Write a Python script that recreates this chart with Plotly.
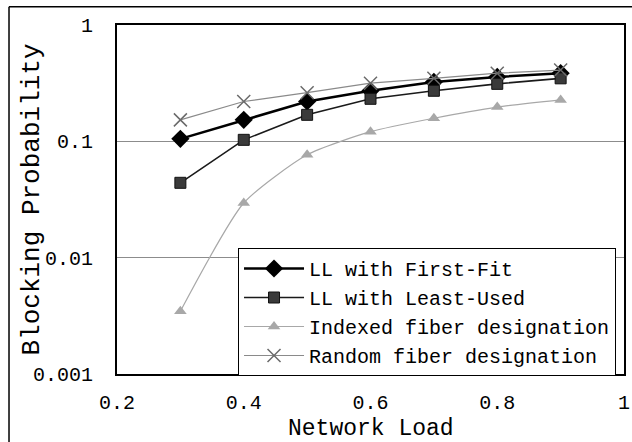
import plotly.graph_objects as go

# Network load values (x axis)
load = [0.3, 0.4, 0.5, 0.6, 0.7, 0.8, 0.9]

# Blocking probability per scheme
first_fit = [0.105, 0.153, 0.22, 0.272, 0.324, 0.358, 0.385]
least_used = [0.044, 0.103, 0.169, 0.232, 0.272, 0.312, 0.348]
indexed_fiber = [0.00346, 0.0295, 0.0766, 0.121, 0.158, 0.197, 0.227]
random_fiber = [0.153, 0.22, 0.262, 0.316, 0.348, 0.385, 0.41]

y_ticks = [0.001, 0.01, 0.1, 1]
y_tick_text = ["0.001", "0.01", "0.1", "1"]
x_ticks = [0.2, 0.4, 0.6, 0.8, 1]
x_tick_text = ["0.2", "0.4", "0.6", "0.8", "1"]

FONT = "Liberation Mono, DejaVu Sans Mono, monospace"

fig = go.Figure()

fig.add_trace(go.Scatter(
    x=load, y=first_fit, name="LL with First-Fit", mode="lines+markers",
    line=dict(color="#000000", width=2.5),
    marker=dict(symbol="diamond", size=14, color="#000000"),
))
fig.add_trace(go.Scatter(
    x=load, y=least_used, name="LL with Least-Used", mode="lines+markers",
    line=dict(color="#1a1a1a", width=1.6),
    marker=dict(symbol="square", size=11, color="#3a3a3a",
                line=dict(color="#111111", width=1)),
))
fig.add_trace(go.Scatter(
    x=load, y=indexed_fiber, name="Indexed fiber designation", mode="lines+markers",
    line=dict(color="#a8a8a8", width=1.2, shape="spline", smoothing=0.6),
    marker=dict(symbol="triangle-up", size=11, color="#a8a8a8"),
))
fig.add_trace(go.Scatter(
    x=load, y=random_fiber, name="Random fiber designation", mode="lines+markers",
    line=dict(color="#8a8a8a", width=1.2),
    marker=dict(symbol="x-thin", size=13, line=dict(color="#6a6a6a", width=1.5)),
))

# Outer frame around the whole figure (left and top edges visible)
for x0, y0, x1, y1 in [(-0.213, -0.3, -0.213, 1.052), (-0.213, 1.052, 1.2, 1.052)]:
    fig.add_shape(type="line", xref="paper", yref="paper",
                  x0=x0, y0=y0, x1=x1, y1=y1,
                  line=dict(color="#000000", width=1.5))

# Axis titles
fig.add_annotation(text="Network Load", xref="paper", yref="paper",
                   x=0.5, y=-0.158, xanchor="center", yanchor="middle",
                   showarrow=False, font=dict(family=FONT, size=23))
fig.add_annotation(text="Blocking Probability", xref="paper", yref="paper",
                   x=-0.1696, y=0.5, xanchor="center", yanchor="middle",
                   textangle=-90, showarrow=False, font=dict(family=FONT, size=26))

fig.update_layout(
    width=632, height=442,
    margin=dict(l=117, r=8, t=25, b=68, autoexpand=False),
    paper_bgcolor="white", plot_bgcolor="white",
    font=dict(family=FONT, color="#000000", size=20),
    showlegend=True,
    legend=dict(
        x=0.2387, y=0.361, xanchor="left", yanchor="top",
        bgcolor="white", bordercolor="#000000", borderwidth=1,
        font=dict(family=FONT, size=20, color="#000000"),
        itemwidth=60, tracegroupgap=0,
    ),
)

fig.update_xaxes(
    range=[0.2, 1], tickvals=x_ticks, ticktext=x_tick_text,
    showgrid=False, zeroline=False, automargin=False,
    showline=True, mirror=True, linecolor="#000000", linewidth=2,
    ticks="", ticklabelstandoff=9,
    tickfont=dict(family=FONT, size=20),
)
fig.update_yaxes(
    type="log", range=[-3, 0], tickvals=y_ticks, ticktext=y_tick_text,
    showgrid=True, gridcolor="#8c8c8c", gridwidth=1, zeroline=False, automargin=False,
    showline=True, mirror=True, linecolor="#000000", linewidth=2,
    ticks="", ticklabelstandoff=18,
    tickfont=dict(family=FONT, size=20),
)

fig.write_html("out.html")
